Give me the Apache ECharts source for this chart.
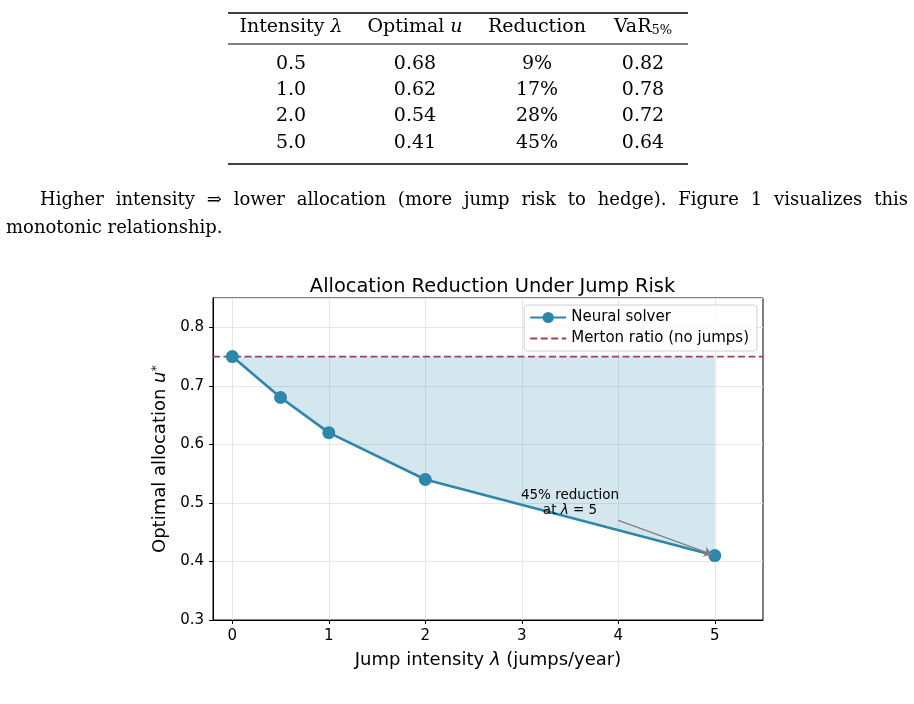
<!DOCTYPE html>
<html>
<head>
<meta charset="utf-8">
<script src="https://cdn.jsdelivr.net/npm/echarts@6/dist/echarts.min.js"></script>
<style>
  html, body { margin: 0; padding: 0; background: #fff; }
  #main { width: 914px; height: 704px; }
</style>
</head>
<body>
<div id="main"></div>
<script>
// 表格数据
var tableLambda = ['0.5', '1.0', '2.0', '5.0'];
var tableU = ['0.68', '0.62', '0.54', '0.41'];
var tableReduction = ['9%', '17%', '28%', '45%'];
var tableVaR = ['0.82', '0.78', '0.72', '0.64'];

// 图表数据
var lambdas = [0, 0.5, 1, 2, 5];
var allocations = [0.75, 0.68, 0.62, 0.54, 0.41];
var mertonRatio = 0.75;
var xTicks = [0, 1, 2, 3, 4, 5];

var serif = '"DejaVu Serif", serif';
var sans = '"DejaVu Sans", sans-serif';

var myChart = echarts.init(document.getElementById('main'));

// 表格
var tableFont = '19px ' + serif;
var colX = [291, 415, 537, 643];
var rowY = [64, 90, 116, 143];
var graphics = [
    {type: 'line', shape: {x1: 228, y1: 13, x2: 688, y2: 13}, style: {stroke: '#000', lineWidth: 1.6}},
    {type: 'line', shape: {x1: 228, y1: 44, x2: 688, y2: 44}, style: {stroke: '#000', lineWidth: 1}},
    {type: 'line', shape: {x1: 228, y1: 164, x2: 688, y2: 164}, style: {stroke: '#000', lineWidth: 1.6}},
    {type: 'text', style: {x: colX[0], y: 27, text: '{r|Intensity }{i|λ}', align: 'center', verticalAlign: 'middle',
        rich: {r: {font: tableFont}, i: {font: 'italic ' + tableFont}}}},
    {type: 'text', style: {x: colX[1], y: 27, text: '{r|Optimal }{i|u}', align: 'center', verticalAlign: 'middle',
        rich: {r: {font: tableFont}, i: {font: 'italic ' + tableFont}}}},
    {type: 'text', style: {x: colX[2], y: 27, text: 'Reduction', align: 'center', verticalAlign: 'middle',
        font: tableFont}},
    {type: 'text', style: {x: colX[3], y: 27, text: '{r|VaR}{s|5%}', align: 'center', verticalAlign: 'middle',
        rich: {r: {font: tableFont}, s: {font: '13px ' + serif, padding: [8, 0, 0, 0]}}}}
];
var cols = [tableLambda, tableU, tableReduction, tableVaR];
cols.forEach(function (col, c) {
    col.forEach(function (v, r) {
        graphics.push({type: 'text', style: {x: colX[c], y: rowY[r], text: v, align: 'center',
            verticalAlign: 'middle', font: tableFont, fill: '#000'}});
    });
});

// 正文第一行两端对齐
var paraFont = '18px ' + serif;
var words = 'Higher intensity ⇒ lower allocation (more jump risk to hedge). Figure 1 visualizes this'.split(' ');
var ctx = document.createElement('canvas').getContext('2d');
ctx.font = paraFont;
var total = 0;
words.forEach(function (w) { total += ctx.measureText(w).width; });
var gap = (908 - 40 - total) / (words.length - 1);
var px = 40;
words.forEach(function (w) {
    graphics.push({type: 'text', style: {x: px, y: 200, verticalAlign: 'middle', fill: '#000',
        text: w, font: paraFont}});
    px += ctx.measureText(w).width + gap;
});
graphics.push({type: 'text', style: {x: 6, y: 228, verticalAlign: 'middle', fill: '#000',
    text: 'monotonic relationship.', font: paraFont}});

var option = {
    animation: false,
    backgroundColor: '#fff',
    textStyle: {fontFamily: sans},
    title: {
        text: 'Allocation Reduction Under Jump Risk',
        left: 487.5, top: 272, textAlign: 'center',
        textStyle: {fontFamily: sans, fontSize: 19.4, fontWeight: 'normal', color: '#000'}
    },
    graphic: graphics,
    grid: {
        left: 213, right: 151, top: 298, bottom: 84,
        show: true, borderColor: '#000', borderWidth: 1, backgroundColor: 'transparent'
    },
    legend: {
        data: [
            {name: 'Neural solver'},
            {name: 'Merton ratio (no jumps)', itemStyle: {opacity: 0}}
        ],
        orient: 'vertical', right: 157, top: 305,
        itemWidth: 36, itemHeight: 14, itemGap: 6,
        padding: [5, 8, 5, 5],
        backgroundColor: 'rgba(255,255,255,0.8)',
        borderColor: '#d0d0d0', borderWidth: 1, borderRadius: 3,
        textStyle: {fontFamily: sans, fontSize: 15, color: '#000'}
    },
    xAxis: {
        type: 'value', min: -0.2, max: 5.5,
        name: '{r|Jump intensity }{i|λ}{r| (jumps/year)}',
        nameLocation: 'middle', nameGap: 31,
        nameTextStyle: {rich: {r: {fontSize: 18, color: '#000', fontFamily: sans},
            i: {fontSize: 18, color: '#000', fontStyle: 'italic', fontFamily: sans}}},
        axisLine: {show: true, onZero: false, lineStyle: {color: '#000'}},
        axisTick: {show: true, length: 4, customValues: xTicks, lineStyle: {color: '#000'}},
        axisLabel: {customValues: xTicks, color: '#000', fontSize: 15, margin: 9},
        splitLine: {show: true, lineStyle: {color: '#e6e6e6', width: 1}}
    },
    yAxis: {
        type: 'value', min: 0.3, max: 0.85, interval: 0.1,
        name: '{r|Optimal allocation }{i|u}{s|*}',
        nameLocation: 'middle', nameGap: 42, nameRotate: 90,
        nameTextStyle: {rich: {r: {fontSize: 18, color: '#000', fontFamily: sans},
            i: {fontSize: 18, color: '#000', fontStyle: 'italic', fontFamily: sans},
            s: {fontSize: 13, color: '#000', fontFamily: sans, verticalAlign: 'top', padding: [0, 0, 8, 0]}}},
        axisLine: {show: true, onZero: false, lineStyle: {color: '#000'}},
        axisTick: {show: true, length: 4, lineStyle: {color: '#000'}},
        axisLabel: {color: '#000', fontSize: 15, margin: 9, showMaxLabel: false,
            formatter: function (v) { return v.toFixed(1); }},
        splitLine: {show: true, lineStyle: {color: '#e6e6e6', width: 1}}
    },
    series: [
        {
            name: 'fill',
            type: 'line',
            data: lambdas.map(function (x, i) { return [x, allocations[i]]; }),
            showSymbol: false,
            silent: true,
            lineStyle: {width: 0, opacity: 0},
            areaStyle: {origin: mertonRatio, color: '#2E86AB', opacity: 0.2},
            z: 1
        },
        {
            name: 'Merton ratio (no jumps)',
            type: 'line',
            data: [[-0.2, mertonRatio], [5.5, mertonRatio]],
            showSymbol: false,
            symbol: 'none',
            color: '#A23B72',
            lineStyle: {color: '#A23B72', width: 1.8, type: [7, 3.5]},
            z: 2
        },
        {
            name: 'Neural solver',
            type: 'line',
            data: lambdas.map(function (x, i) { return [x, allocations[i]]; }),
            symbol: 'circle',
            symbolSize: 13,
            color: '#2E86AB',
            lineStyle: {color: '#2E86AB', width: 2.6},
            itemStyle: {color: '#2E86AB'},
            z: 3,
            markLine: {
                silent: true,
                symbol: ['none', 'arrow'],
                symbolSize: 8,
                label: {show: false},
                lineStyle: {color: '#808080', width: 1.3, type: 'solid'},
                data: [[{coord: [4, 0.47]}, {coord: [4.97, 0.412]}]]
            },
            markPoint: {
                silent: true,
                symbol: 'circle', symbolSize: 0,
                data: [{
                    coord: [3.5, 0.5],
                    label: {
                        show: true, position: 'inside',
                        formatter: '{r|45% reduction}\n{r|at }{i|λ}{r| = 5}',
                        rich: {r: {fontSize: 13.5, color: '#000', fontFamily: sans, lineHeight: 15},
                            i: {fontSize: 13.5, color: '#000', fontStyle: 'italic', fontFamily: sans, lineHeight: 15}}
                    }
                }]
            }
        }
    ]
};
myChart.setOption(option);
window.addEventListener('resize', function () {
    myChart.resize();
});
</script>
</body>
</html>
